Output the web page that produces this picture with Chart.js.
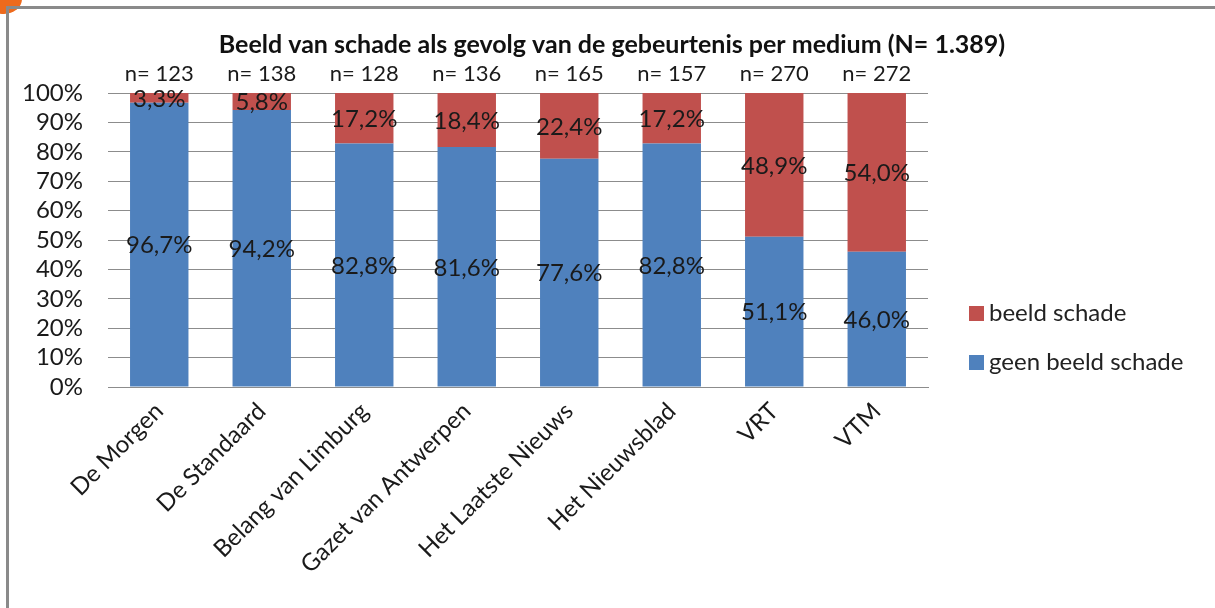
<!DOCTYPE html>
<html>
<head>
<meta charset="utf-8">
<script src="https://cdn.jsdelivr.net/npm/chart.js@4/dist/chart.umd.min.js"></script>
<style>
  html, body { margin: 0; padding: 0; background: #fff; }
  #wrap { position: relative; width: 1215px; height: 608px; overflow: hidden; font-family: Lato, "Open Sans", sans-serif; }
  #frame { position: absolute; left: 6px; top: 6px; right: -10px; bottom: -10px; border-left: 3px solid #8a8a8a; border-top: 3px solid #8a8a8a; }
  #blob { position: absolute; left: -14px; top: -16px; width: 36px; height: 30px; border-radius: 50%; background: #ee6a1c; }
  #chart { position: absolute; left: 0; top: 0; }
  .leg { position: absolute; left: 969px; font-size: 24px; color: #222; white-space: nowrap; }
  .leg span { display: inline-block; width: 15px; height: 15px; margin-right: 5px; vertical-align: 0px; }
</style>
</head>
<body>
<div id="wrap">
  <div id="blob"></div>
  <div id="frame"></div>
  <canvas id="chart" width="1215" height="608"></canvas>
  <div class="leg" style="top:297px"><span style="background:#C0504D"></span>beeld schade</div>
  <div class="leg" style="top:346px"><span style="background:#4F81BD"></span>geen beeld schade</div>
</div>
<script>
const titleText = 'Beeld van schade als gevolg van de gebeurtenis per medium (N= 1.389)';
const media = ['De Morgen', 'De Standaard', 'Belang van Limburg', 'Gazet van Antwerpen',
               'Het Laatste Nieuws', 'Het Nieuwsblad', 'VRT', 'VTM'];
const counts = [123, 138, 128, 136, 165, 157, 270, 272];
const geenSchade = [96.7, 94.2, 82.8, 81.6, 77.6, 82.8, 51.1, 46.0];
const welSchade = [3.3, 5.8, 17.2, 18.4, 22.4, 17.2, 48.9, 54.0];

const FONT = 'Lato, "Open Sans", sans-serif';
const fmt = v => v.toFixed(1).replace('.', ',') + '%';

// draws title, n= labels and the value labels inside the bars
const labelPlugin = {
    id: 'labels',
    afterDatasetsDraw(chart) {
        const ctx = chart.ctx;
        const area = chart.chartArea;
        ctx.save();
        ctx.fillStyle = '#111';
        ctx.textAlign = 'center';
        ctx.textBaseline = 'middle';

        ctx.font = 'bold 25px ' + FONT;
        ctx.fillText(titleText, 612, 45);

        ctx.fillStyle = '#1a1a1a';
        ctx.font = '24px ' + FONT;
        chart.data.datasets.forEach((ds, di) => {
            const meta = chart.getDatasetMeta(di);
            meta.data.forEach((bar, i) => {
                const yMid = (bar.y + bar.base) / 2;
                ctx.fillText(fmt(ds.data[i]), bar.x, yMid + 1);
            });
        });

        ctx.font = '22px ' + FONT;
        const first = chart.getDatasetMeta(0);
        first.data.forEach((bar, i) => {
            ctx.fillText('n= ' + counts[i], bar.x, area.top - 19);
        });
        ctx.restore();
    }
};

new Chart(document.getElementById('chart'), {
    type: 'bar',
    data: {
        labels: media,
        datasets: [
            { label: 'geen beeld schade', data: geenSchade, backgroundColor: '#4F81BD',
              barPercentage: 0.57, categoryPercentage: 1 },
            { label: 'beeld schade', data: welSchade, backgroundColor: '#C0504D',
              barPercentage: 0.57, categoryPercentage: 1 }
        ]
    },
    options: {
        responsive: false,
        animation: false,
        layout: { padding: { left: 0, right: 287, top: 93, bottom: 0 } },
        plugins: {
            legend: { display: false },
            title: { display: false },
            tooltip: { enabled: false }
        },
        scales: {
            x: {
                stacked: true,
                grid: { display: false },
                border: { display: true, color: '#8c8c8c', width: 1 },
                ticks: {
                    color: '#1a1a1a',
                    font: { family: FONT, size: 24 },
                    minRotation: 45,
                    maxRotation: 45,
                    padding: 2,
                    autoSkip: false
                },
                afterFit(scale) { scale.height = 221; }
            },
            y: {
                stacked: true,
                min: 0,
                max: 100,
                grid: { color: '#8c8c8c', lineWidth: 1, drawTicks: false },
                border: { display: false },
                ticks: {
                    stepSize: 10,
                    autoSkip: false,
                    color: '#1a1a1a',
                    padding: 25,
                    font: { family: FONT, size: 24 },
                    callback: v => v + '%'
                },
                afterFit(scale) { scale.width = 108; }
            }
        }
    },
    plugins: [labelPlugin]
});
</script>
</body>
</html>
